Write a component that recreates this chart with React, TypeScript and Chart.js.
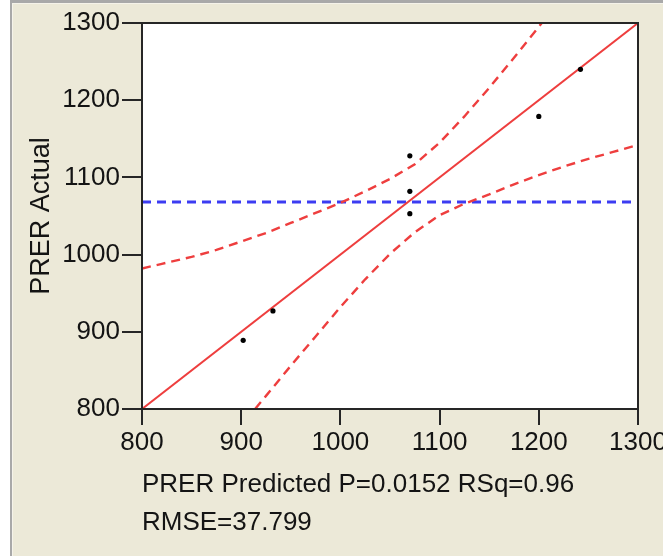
import React, { useEffect, useRef } from 'react';
import { Chart, registerables } from 'chart.js';

Chart.register(...registerables);

// ---- data ----
const predicted = [902, 932, 1070, 1070, 1070, 1200, 1242];
const actual = [889, 927, 1128, 1082, 1053, 1179, 1240];

const fitX = [800, 1300];
const fitY = [800, 1300];

const upperX = [800, 820, 850, 875, 900, 925, 950, 975, 1000, 1025, 1050, 1075, 1100, 1125, 1150, 1175, 1200, 1203];
const upperY = [982, 988, 997, 1006, 1017, 1028, 1041, 1054, 1067, 1082, 1098, 1117, 1145, 1179, 1216, 1255, 1295, 1300];

const lowerX = [914, 925, 950, 975, 1000, 1025, 1050, 1075, 1100, 1125, 1150, 1175, 1200, 1225, 1250, 1275, 1300];
const lowerY = [800, 817, 856, 894, 932, 968, 1001, 1029, 1051, 1066, 1078, 1091, 1103, 1114, 1124, 1133, 1142];

const meanX = [800, 1300];
const meanY = [1068, 1068];

const axisMin = 800;
const axisMax = 1300;
const axisStep = 100;

const xTitle = ['PRER Predicted P=0.0152 RSq=0.96', 'RMSE=37.799'];
const yTitle = 'PRER Actual';

const FONT = '"Liberation Sans", Arial, sans-serif';
const TEXT = '#141414';
const AXIS = '#262626';
const RED = '#ee3e3e';
const BLUE = '#3c3cf2';

const pts = (xs: number[], ys: number[]) => xs.map((x, i) => ({ x, y: ys[i] }));

const framePlugin = {
  id: 'frame',
  beforeDraw(chart: any) {
    const { ctx, width, height, chartArea: a } = chart;
    ctx.save();
    ctx.fillStyle = '#ECE9D8';
    ctx.fillRect(0, 0, width, height);
    ctx.fillStyle = '#ffffff';
    ctx.fillRect(0, 0, 10, height);
    ctx.fillStyle = '#a9a9a9';
    ctx.fillRect(10, 0, width - 10, 3);
    ctx.fillRect(10, 0, 2, height);
    ctx.fillStyle = '#f5f3ea';
    ctx.fillRect(12, 3, width - 12, 1);
    ctx.fillRect(12, 3, 1, height);
    ctx.fillStyle = '#ffffff';
    ctx.fillRect(a.left, a.top, a.right - a.left, a.bottom - a.top);
    ctx.restore();
  },
  afterDatasetsDraw(chart: any) {
    const { ctx, chartArea: a } = chart;
    ctx.save();
    ctx.strokeStyle = AXIS;
    ctx.lineWidth = 2;
    ctx.strokeRect(a.left, a.top, a.right - a.left, a.bottom - a.top);
    ctx.restore();
  },
};

const plainTick = (v: any) => String(v);

export default function App() {
  const ref = useRef<HTMLCanvasElement>(null);

  useEffect(() => {
    if (!ref.current) return;
    const chart = new Chart(ref.current, {
      type: 'scatter',
      data: {
        datasets: [
          {
            label: 'points',
            data: pts(predicted, actual),
            pointRadius: 2.6,
            pointBackgroundColor: '#000000',
            pointBorderWidth: 0,
            showLine: false,
          },
          {
            label: 'fit',
            data: pts(fitX, fitY),
            showLine: true,
            borderColor: RED,
            borderWidth: 2,
            pointRadius: 0,
          },
          {
            label: 'upper',
            data: pts(upperX, upperY),
            showLine: true,
            borderColor: RED,
            borderWidth: 2.4,
            borderDash: [9, 6],
            pointRadius: 0,
          },
          {
            label: 'lower',
            data: pts(lowerX, lowerY),
            showLine: true,
            borderColor: RED,
            borderWidth: 2.4,
            borderDash: [9, 6],
            pointRadius: 0,
          },
          {
            label: 'mean',
            data: pts(meanX, meanY),
            showLine: true,
            borderColor: BLUE,
            borderWidth: 3,
            borderDash: [9, 6],
            pointRadius: 0,
          },
        ],
      },
      options: {
        animation: false,
        responsive: false,
        devicePixelRatio: 1,
        layout: { padding: { top: 23, right: 25, left: 0, bottom: 0 } },
        plugins: { legend: { display: false }, tooltip: { enabled: false } },
        scales: {
          x: {
            type: 'linear',
            min: axisMin,
            max: axisMax,
            ticks: {
              stepSize: axisStep,
              font: { family: FONT, size: 26 },
              color: TEXT,
              padding: 2,
              maxRotation: 0,
              autoSkip: false,
              callback: plainTick,
            },
            grid: { drawOnChartArea: false, drawTicks: true, tickLength: 16, color: AXIS, lineWidth: 2 },
            border: { display: true, color: AXIS, width: 2 },
            title: {
              display: true,
              text: xTitle,
              align: 'start',
              color: TEXT,
              font: { family: FONT, size: 26, lineHeight: '38px' },
              padding: { top: 0, bottom: 14 },
            },
            afterFit(s: any) {
              s.height = 147;
              s.paddingLeft = 0;
              s.paddingRight = 0;
            },
          },
          y: {
            type: 'linear',
            min: axisMin,
            max: axisMax,
            ticks: {
              stepSize: axisStep,
              font: { family: FONT, size: 26 },
              color: TEXT,
              padding: 2,
              callback: plainTick,
            },
            grid: { drawOnChartArea: false, drawTicks: true, tickLength: 20, color: AXIS, lineWidth: 2 },
            border: { display: true, color: AXIS, width: 2 },
            title: {
              display: true,
              text: yTitle,
              color: TEXT,
              font: { family: FONT, size: 27 },
              padding: { top: 25, bottom: 0 },
            },
            afterFit(s: any) {
              s.width = 142;
              s.paddingTop = 0;
              s.paddingBottom = 0;
            },
          },
        },
      } as any,
      plugins: [framePlugin],
    });
    return () => chart.destroy();
  }, []);

  return (
    <div style={{ position: 'fixed', left: 0, top: 0, width: 663, height: 556, overflow: 'hidden' }}>
      <canvas ref={ref} width={663} height={556} style={{ display: 'block', width: 663, height: 556 }} />
    </div>
  );
}
